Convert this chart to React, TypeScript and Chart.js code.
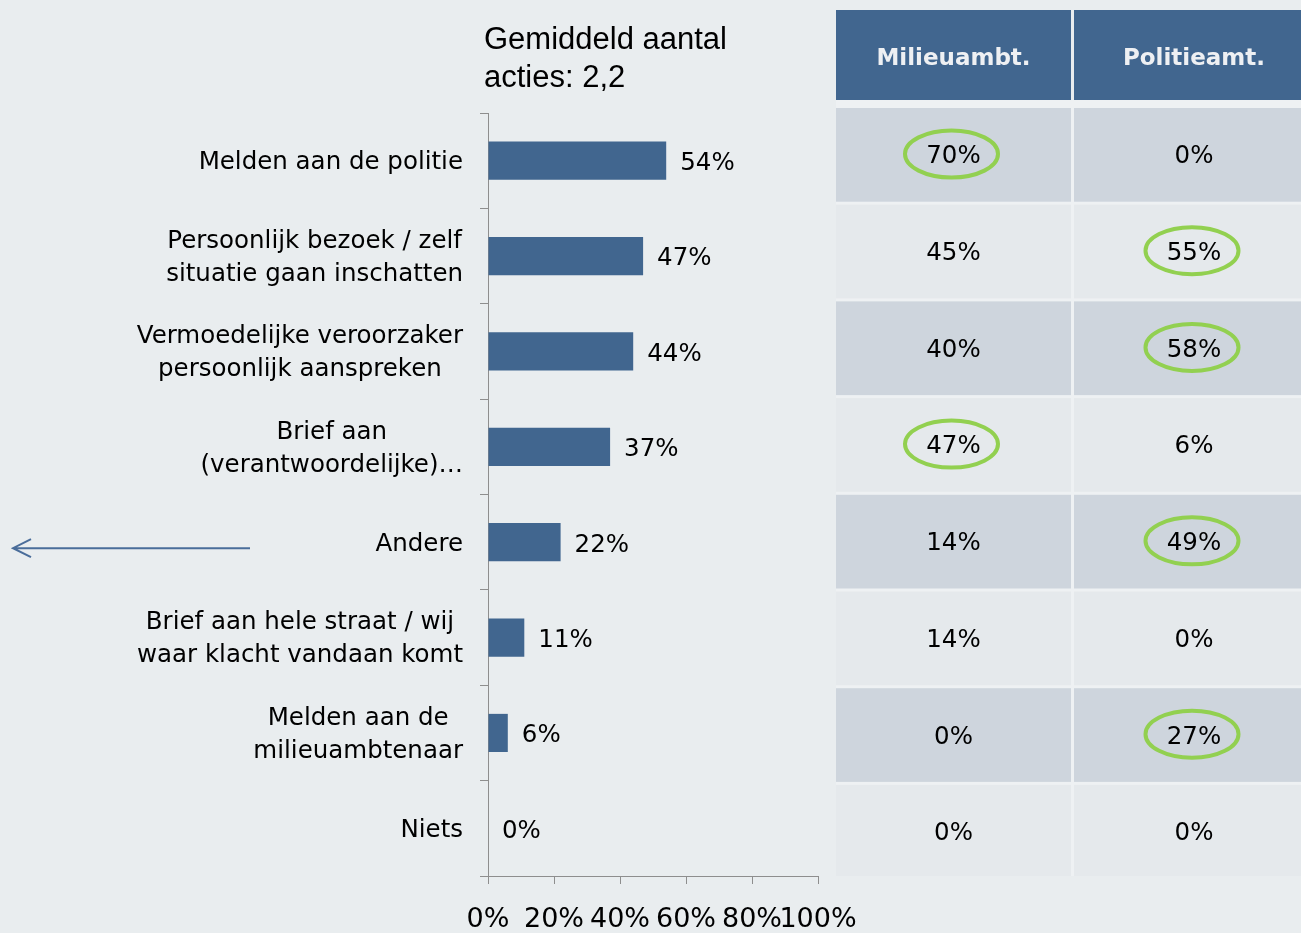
import { useEffect, useRef } from "react";
import { Chart, registerables } from "chart.js";

Chart.register(...registerables);

// ---------- data ----------
const categoryLines: string[][] = [
  ["Melden aan de politie"],
  ["Persoonlijk bezoek / zelf", "situatie gaan inschatten"],
  ["Vermoedelijke veroorzaker", "persoonlijk aanspreken"],
  ["Brief aan", "(verantwoordelijke)…"],
  ["Andere"],
  ["Brief aan hele straat / wij", "waar klacht vandaan komt"],
  ["Melden aan de", "milieuambtenaar"],
  ["Niets"],
];
const totalValues = [54, 47, 44, 37, 22, 11, 6, 0];
const xTickValues = [0, 20, 40, 60, 80, 100];
const titleLines = ["Gemiddeld aantal", "acties: 2,2"];
const tableHeaders = ["Milieuambt.", "Politieamt."];
const milieuValues = [70, 45, 40, 47, 14, 14, 0, 0];
const politieValues = [0, 55, 58, 6, 49, 0, 27, 0];
const milieuHighlight = [true, false, false, true, false, false, false, false];
const politieHighlight = [false, true, true, false, true, false, true, false];
const arrowCategoryIndex = 4; // "Andere"

// ---------- style ----------
const FONT = '"DejaVu Sans", Verdana, sans-serif';
const TITLE_FONT = '"Liberation Sans", Arial, sans-serif';
const BG = "#e9edef";
const BAR = "#41668f";
const AXIS = "#8e8e8e";
const CELL_DARK = "#ced5dd";
const CELL_LIGHT = "#e5e9ec";
const GAP = "#eef1f3";
const GREEN = "#92d050";

const overlayPlugin = {
  id: "overlay",
  beforeDraw(chart: any) {
    const ctx = chart.ctx;
    ctx.save();
    ctx.fillStyle = BG;
    ctx.fillRect(0, 0, chart.width, chart.height);
    ctx.restore();
  },
  afterDraw(chart: any) {
    const ctx = chart.ctx;
    const ca = chart.chartArea;
    const yScale = chart.scales.y;
    ctx.save();

    // category labels (block centred, right aligned to axis)
    ctx.font = `24.5px ${FONT}`;
    ctx.fillStyle = "#000";
    ctx.textBaseline = "middle";
    ctx.textAlign = "center";
    const lh = 33;
    categoryLines.forEach((lines, i) => {
      const cy = yScale.getPixelForValue(i) + 2;
      const w = Math.max(...lines.map((l) => ctx.measureText(l).width));
      const cx = ca.left - 25 - w / 2;
      lines.forEach((l, j) => {
        ctx.fillText(l, cx, cy + (j - (lines.length - 1) / 2) * lh);
      });
    });

    // bar value labels
    const meta = chart.getDatasetMeta(0);
    ctx.font = `24.5px ${FONT}`;
    ctx.textAlign = "left";
    meta.data.forEach((bar: any, i: number) => {
      ctx.fillText(totalValues[i] + "%", bar.x + 14, bar.y + 3);
    });

    // title
    ctx.font = `31px ${TITLE_FONT}`;
    ctx.textAlign = "left";
    titleLines.forEach((t, i) => ctx.fillText(t, ca.left - 4, 40 + i * 38));

    // table
    const colLeft = [836, 1074];
    const colWidth = [235, 240];
    const headTop = 10;
    const headBottom = 100;
    const rowTop = 108;
    const nRows = categoryLines.length;
    const rowH = 96.7;
    ctx.fillStyle = GAP;
    ctx.fillRect(colLeft[0], headBottom, chart.width - colLeft[0], ca.bottom - headBottom);
    // header
    tableHeaders.forEach((h, c) => {
      ctx.fillStyle = BAR;
      ctx.fillRect(colLeft[c], headTop, colWidth[c], headBottom - headTop);
      ctx.fillStyle = "#eef0f3";
      ctx.font = `bold 23px ${FONT}`;
      ctx.textAlign = "center";
      ctx.fillText(h, colLeft[c] + colWidth[c] / 2, (headTop + headBottom) / 2 + 4);
    });
    const cols = [milieuValues, politieValues];
    const highlights = [milieuHighlight, politieHighlight];
    for (let r = 0; r < nRows; r++) {
      const top = rowTop + r * rowH;
      const bottom = r === nRows - 1 ? ca.bottom : top + rowH - 3;
      for (let c = 0; c < 2; c++) {
        ctx.fillStyle = r % 2 === 0 ? CELL_DARK : CELL_LIGHT;
        ctx.fillRect(colLeft[c], top, colWidth[c], bottom - top);
        const cx = colLeft[c] + colWidth[c] / 2;
        const cy = top + 47;
        ctx.fillStyle = "#000";
        ctx.font = `24.5px ${FONT}`;
        ctx.textAlign = "center";
        ctx.fillText(cols[c][r] + "%", cx, cy + 2);
        if (highlights[c][r]) {
          ctx.beginPath();
          ctx.ellipse(cx - 2, cy - 1, 46.5, 23.5, 0, 0, Math.PI * 2);
          ctx.strokeStyle = GREEN;
          ctx.lineWidth = 4;
          ctx.stroke();
        }
      }
    }

    // arrow pointing left at "Andere"
    const ay = yScale.getPixelForValue(arrowCategoryIndex) + 6;
    ctx.strokeStyle = "#4a6d9a";
    ctx.lineWidth = 2;
    ctx.beginPath();
    ctx.moveTo(250, ay);
    ctx.lineTo(13, ay);
    ctx.moveTo(31, ay - 9);
    ctx.lineTo(13, ay);
    ctx.lineTo(31, ay + 9);
    ctx.stroke();

    ctx.restore();
  },
};

export default function App() {
  const canvasRef = useRef<HTMLCanvasElement | null>(null);

  useEffect(() => {
    const canvas = canvasRef.current;
    if (!canvas) return;
    const chart = new Chart(canvas, {
      type: "bar",
      data: {
        labels: categoryLines.map((l) => l.join(" ")),
        datasets: [
          {
            data: totalValues,
            backgroundColor: BAR,
            borderWidth: 0,
            barPercentage: 0.4,
            categoryPercentage: 1,
          },
        ],
      },
      options: {
        indexAxis: "y",
        responsive: false,
        animation: false,
        devicePixelRatio: 1,
        layout: { padding: { top: 113, left: 0, right: 483, bottom: 0 } },
        plugins: {
          legend: { display: false },
          tooltip: { enabled: false },
          title: { display: false },
        },
        scales: {
          x: {
            min: 0,
            max: 100,
            afterBuildTicks: (s: any) => {
              s.ticks = xTickValues.map((v) => ({ value: v }));
            },
            ticks: {
              autoSkip: false,
              maxRotation: 0,
              minRotation: 0,
              padding: 20,
              color: "#000",
              font: { family: FONT, size: 27 },
              callback: (v: any) => v + "%",
            },
            grid: {
              drawOnChartArea: false,
              drawTicks: true,
              tickLength: 8,
              color: AXIS,
            },
            border: { color: AXIS },
            afterFit: (s: any) => {
              s.height = 57;
            },
          },
          y: {
            ticks: { display: false },
            grid: {
              drawOnChartArea: false,
              drawTicks: true,
              tickLength: 8,
              color: AXIS,
              offset: true,
            },
            border: { color: AXIS },
            afterFit: (s: any) => {
              s.width = 488;
            },
          },
        },
      },
      plugins: [overlayPlugin],
    } as any);
    return () => chart.destroy();
  }, []);

  return (
    <div
      style={{
        position: "absolute",
        left: 0,
        top: 0,
        width: 1301,
        height: 933,
        background: BG,
        overflow: "hidden",
      }}
    >
      <canvas ref={canvasRef} width={1301} height={933} style={{ display: "block" }} />
    </div>
  );
}
